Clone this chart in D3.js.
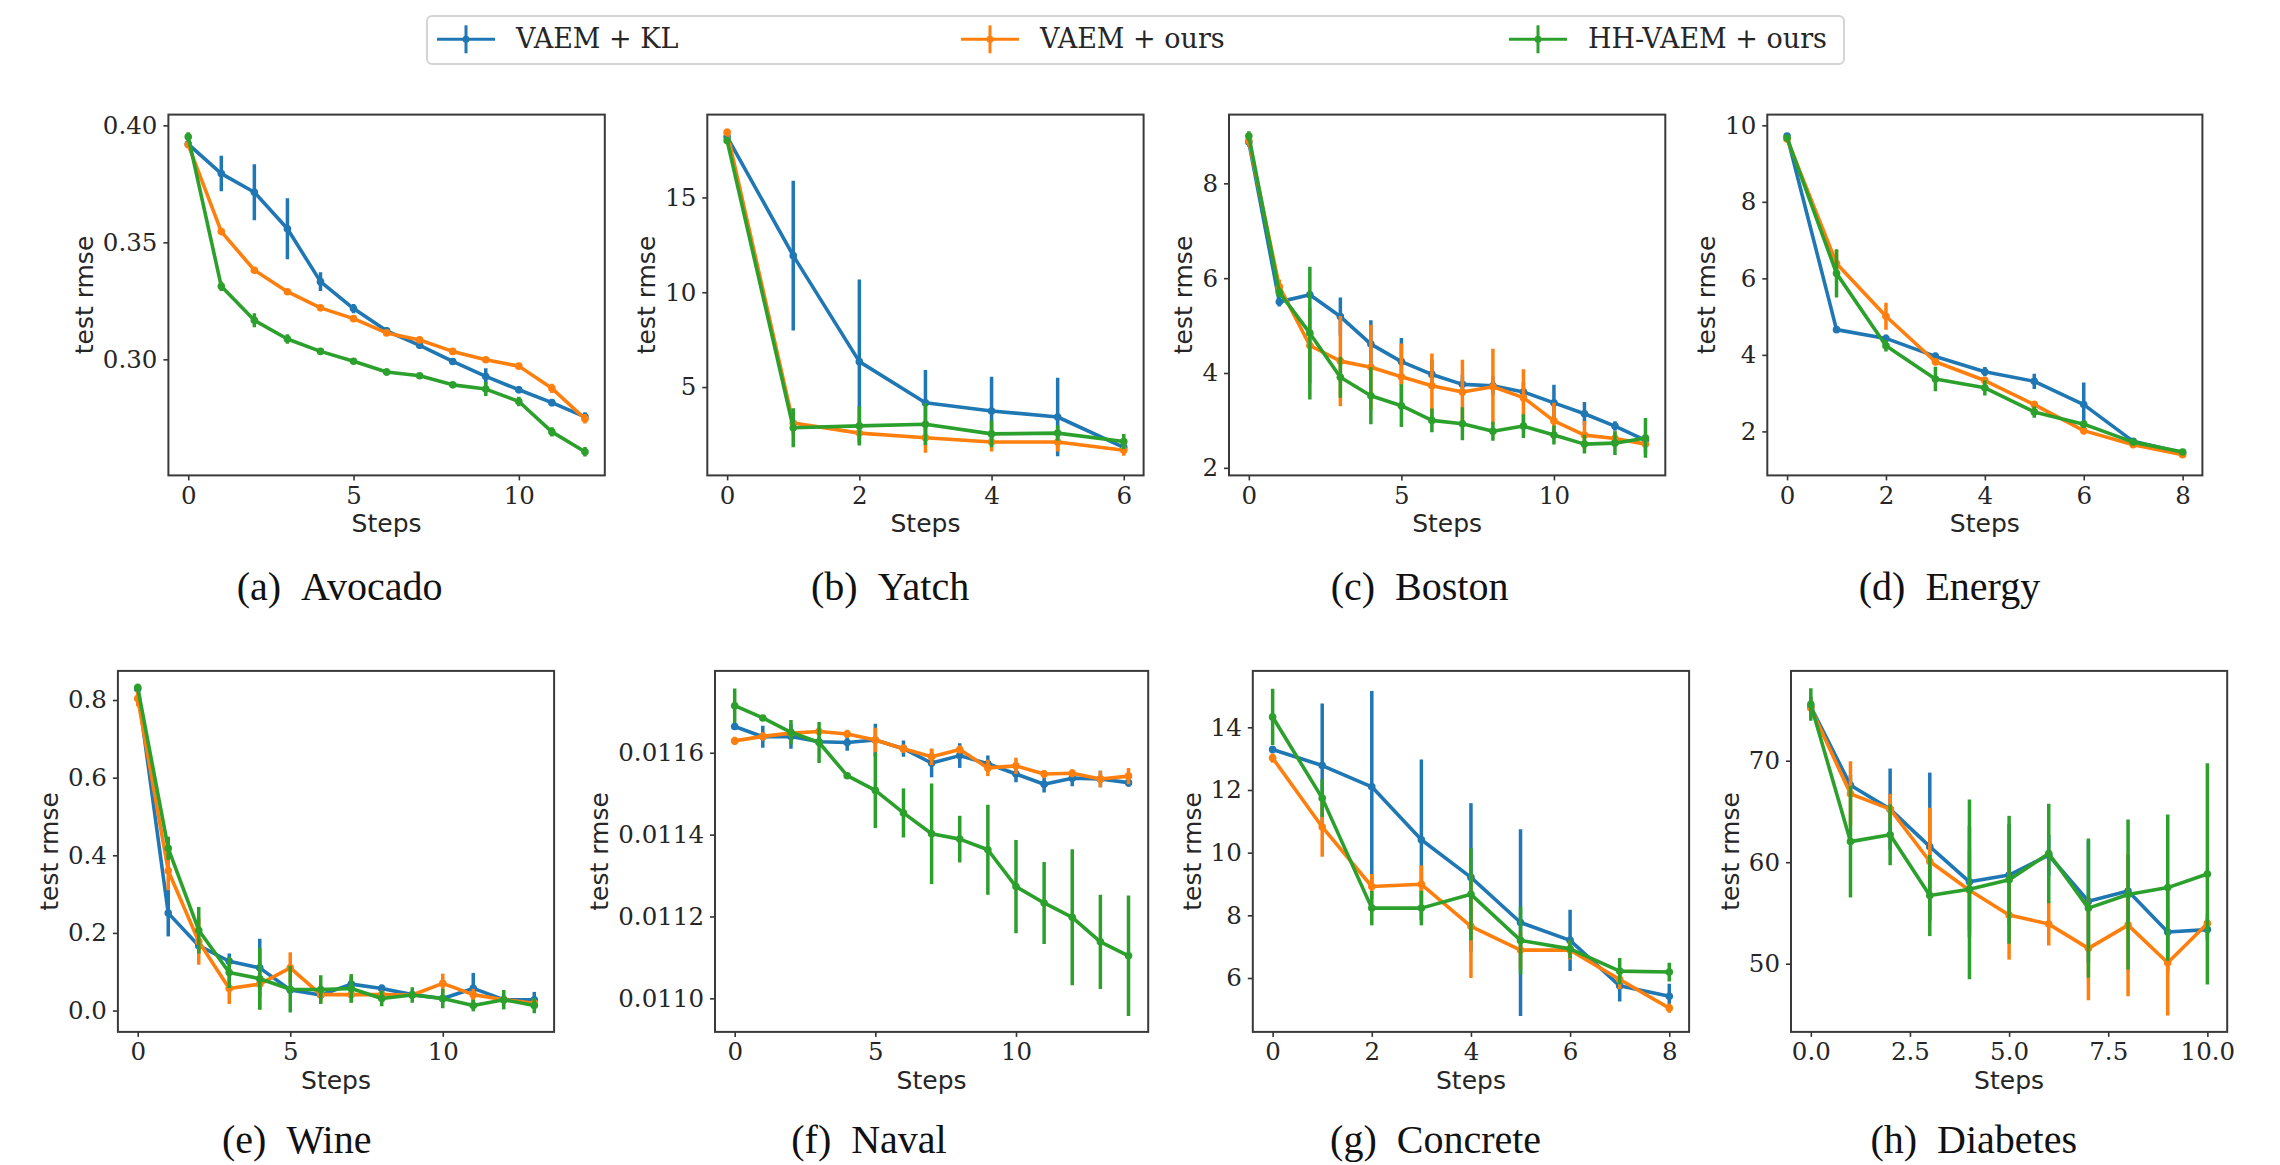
<!DOCTYPE html>
<html><head><meta charset="utf-8">
<script src="https://cdn.jsdelivr.net/npm/d3@7"></script>
<style>body{margin:0;background:#fff} svg{display:block}</style>
</head><body>
<svg id="chart" width="2280" height="1165" xmlns="http://www.w3.org/2000/svg"></svg>
<script>
// ---------------- DATA ----------------
const seriesNames = ["VAEM + KL", "VAEM + ours", "HH-VAEM + ours"];
const datasetNames = ["Avocado", "Yatch", "Boston", "Energy", "Wine", "Naval", "Concrete", "Diabetes"];
const panelLetters = ["a", "b", "c", "d", "e", "f", "g", "h"];

const avocadoKL      = [0.392,0.3794,0.3714,0.3558,0.3332,0.3217,0.3122,0.306,0.2991,0.2927,0.287,0.2815,0.2754];
const avocadoKLErr   = [0.001,0.0076,0.012,0.013,0.004,0.002,0.0015,0.0015,0.0015,0.0035,0.0015,0.0015,0.002];
const avocadoOurs    = [0.3917,0.3546,0.3381,0.3289,0.322,0.3174,0.3113,0.3083,0.3034,0.2998,0.2971,0.2876,0.2746];
const avocadoOursErr = [0.001,0.001,0.001,0.001,0.0012,0.0012,0.0012,0.001,0.001,0.001,0.0012,0.002,0.002];
const avocadoHH      = [0.3951,0.3312,0.3167,0.3087,0.3034,0.2992,0.2946,0.293,0.2891,0.2873,0.282,0.269,0.2605];
const avocadoHHErr   = [0.002,0.002,0.003,0.002,0.001,0.001,0.0015,0.001,0.001,0.003,0.002,0.002,0.002];

const yatchKL      = [18.2,11.93,6.34,4.17,3.74,3.42,1.82];
const yatchKLErr   = [0.2,3.95,4.33,1.73,1.8,2.07,0.3];
const yatchOurs    = [18.43,3.1,2.57,2.33,2.1,2.1,1.67];
const yatchOursErr = [0.2,0.6,0.5,0.8,0.5,0.5,0.3];
const yatchHH      = [18.0,2.85,2.95,3.04,2.53,2.57,2.13];
const yatchHHErr   = [0.2,1.03,1.03,1.1,0.7,0.4,0.4];

const bostonKL      = [8.87,5.5,5.65,5.19,4.61,4.24,3.97,3.76,3.73,3.6,3.37,3.14,2.88,2.58];
const bostonKLErr   = [0.1,0.1,0.08,0.4,0.5,0.5,0.3,0.2,0.2,0.2,0.38,0.25,0.1,0.1];
const bostonOurs    = [8.9,5.82,4.58,4.25,4.12,3.92,3.73,3.6,3.71,3.48,2.99,2.69,2.62,2.5];
const bostonOursErr = [0.1,0.15,0.8,0.95,0.9,0.7,0.68,0.68,0.8,0.6,0.38,0.3,0.15,0.2];
const bostonHH      = [9.0,5.7,4.84,3.91,3.52,3.31,3.0,2.93,2.77,2.88,2.69,2.5,2.52,2.63];
const bostonHHErr   = [0.1,0.1,1.4,0.43,0.6,0.45,0.25,0.35,0.2,0.25,0.2,0.2,0.25,0.42];

const energyKL      = [9.72,4.66,4.43,3.96,3.56,3.31,2.7,1.74,1.44];
const energyKLErr   = [0.05,0.05,0.1,0.1,0.12,0.2,0.58,0.05,0.05];
const energyOurs    = [9.64,6.39,5.01,3.82,3.33,2.7,2.02,1.65,1.39];
const energyOursErr = [0.05,0.35,0.35,0.1,0.1,0.1,0.1,0.05,0.05];
const energyHH      = [9.67,6.13,4.24,3.37,3.14,2.51,2.19,1.72,1.46];
const energyHHErr   = [0.05,0.63,0.15,0.32,0.2,0.15,0.1,0.05,0.05];

const wineKL      = [0.829,0.251,0.167,0.127,0.11,0.053,0.04,0.068,0.057,0.041,0.031,0.057,0.028,0.028];
const wineKLErr   = [0.01,0.06,0.02,0.02,0.075,0.01,0.01,0.02,0.01,0.01,0.01,0.04,0.01,0.02];
const wineOurs    = [0.804,0.36,0.178,0.057,0.068,0.11,0.041,0.041,0.041,0.04,0.07,0.041,0.028,0.019];
const wineOursErr = [0.02,0.05,0.06,0.04,0.065,0.04,0.02,0.02,0.01,0.01,0.025,0.015,0.01,0.01];
const wineHH      = [0.832,0.418,0.207,0.098,0.082,0.055,0.054,0.057,0.031,0.04,0.031,0.013,0.028,0.013];
const wineHHErr   = [0.01,0.03,0.06,0.04,0.08,0.06,0.037,0.037,0.02,0.02,0.025,0.015,0.025,0.02];

const navalKL      = [0.011664,0.011639,0.01164,0.011627,0.011625,0.011631,0.01161,0.011575,0.011593,0.011573,0.011548,0.011523,0.011538,0.011536,0.011527];
const navalKLErr   = [0.000008,0.000027,0.00003,0.00001,0.00002,0.00004,0.00002,0.000035,0.00003,0.00002,0.00002,0.00002,0.00002,0.00002,0.00001];
const navalOurs    = [0.011629,0.01164,0.011648,0.011652,0.011646,0.011631,0.01161,0.01159,0.011608,0.011563,0.011568,0.011548,0.01155,0.011536,0.011543];
const navalOursErr = [0.00001,0.00001,0.00001,0.00001,0.00001,0.00003,0.00001,0.00002,0.00001,0.00002,0.00002,0.00001,0.00001,0.00002,0.00002];
const navalHH      = [0.011715,0.011685,0.01165,0.011625,0.011544,0.011508,0.011453,0.011402,0.011389,0.011363,0.011273,0.011233,0.011198,0.011138,0.011104];
const navalHHErr   = [0.000042,0.000005,0.00003,0.00005,0.000005,0.000092,0.00006,0.000123,0.000057,0.00011,0.000114,0.0001,0.000166,0.000115,0.000147];

const concreteKL      = [13.29,12.78,12.1,10.41,9.21,7.77,7.2,5.75,5.42];
const concreteKLErr   = [0.1,1.98,3.06,2.56,2.37,2.98,0.98,0.5,0.4];
const concreteOurs    = [13.02,10.82,8.92,8.99,7.65,6.89,6.89,5.95,5.04];
const concreteOursErr = [0.15,0.95,0.4,0.6,1.65,0.6,0.3,0.3,0.15];
const concreteHH      = [14.33,11.74,8.23,8.23,8.67,7.2,6.93,6.22,6.19];
const concreteHHErr   = [0.9,0.6,0.55,0.55,1.47,1.08,0.3,0.42,0.3];

const diabetesKL      = [75.3,67.58,65.23,61.53,58.07,58.74,60.69,56.15,57.16,53.13,53.36];
const diabetesKLErr   = [1,1,4,7.3,5.5,5,2,6,3.5,4,1];
const diabetesOurs    = [75.2,66.74,65.23,60.07,57.23,54.8,53.9,51.51,53.8,50.1,53.97];
const diabetesOursErr = [1,3.2,1.5,5.3,4,4.4,2.1,5.1,7,5.2,1];
const diabetesHH      = [75.55,62.03,62.7,56.72,57.33,58.27,60.86,55.48,56.82,57.5,58.84];
const diabetesHHErr   = [1.6,5.5,3,4,8.86,6.3,4.9,6.86,7.4,7.2,10.9];

// axis limits and ticks
const yDomains = [[0.2504,0.4046],[0.34,19.37],[1.84,9.45],[0.85,10.28],[-0.055,0.875],[0.010918,0.0118],[4.28,15.8],[43.28,78.85]];
const yTickValues = [[0.30,0.35,0.40],[5,10,15],[2,4,6,8],[2,4,6,8,10],[0.0,0.2,0.4,0.6,0.8],[0.0110,0.0112,0.0114,0.0116],[6,8,10,12,14],[50,60,70]];
const yTickFormats = [".2f","d","d","d",".1f",".4f","d","d"];
const xTickValues = [[0,5,10],[0,2,4,6],[0,5,10],[0,2,4,6,8],[0,5,10],[0,5,10],[0,2,4,6,8],[0,2.5,5,7.5,10]];
const xTickFormats = ["d","d","d","d","d","d","d",".1f"];

const panelSeries = [
  [[avocadoKL,avocadoKLErr],[avocadoOurs,avocadoOursErr],[avocadoHH,avocadoHHErr]],
  [[yatchKL,yatchKLErr],[yatchOurs,yatchOursErr],[yatchHH,yatchHHErr]],
  [[bostonKL,bostonKLErr],[bostonOurs,bostonOursErr],[bostonHH,bostonHHErr]],
  [[energyKL,energyKLErr],[energyOurs,energyOursErr],[energyHH,energyHHErr]],
  [[wineKL,wineKLErr],[wineOurs,wineOursErr],[wineHH,wineHHErr]],
  [[navalKL,navalKLErr],[navalOurs,navalOursErr],[navalHH,navalHHErr]],
  [[concreteKL,concreteKLErr],[concreteOurs,concreteOursErr],[concreteHH,concreteHHErr]],
  [[diabetesKL,diabetesKLErr],[diabetesOurs,diabetesOursErr],[diabetesHH,diabetesHHErr]]
];

// ---------------- LAYOUT / STYLE ----------------
const colors = ["#1f77b4", "#ff7f0e", "#2ca02c"];
const frames = [
  {x0:168.4,x1:604.8,y0:114.6,y1:475.4},
  {x0:707.3,x1:1143.6,y0:114.6,y1:475.4},
  {x0:1229,x1:1665.3,y0:114.6,y1:475.4},
  {x0:1767.3,x1:2202.4,y0:114.6,y1:475.4},
  {x0:117.9,x1:554.1,y0:670.9,y1:1031.9},
  {x0:715,x1:1148.2,y0:670.9,y1:1031.9},
  {x0:1252.8,x1:1689.1,y0:670.9,y1:1031.9},
  {x0:1791,x1:2227.2,y0:670.9,y1:1031.9}
];
const captionBaselines = [600,600,600,600,1153,1153,1153,1153];
const tickFont = "'DejaVu Serif', serif";
const labelFont = "'DejaVu Sans', sans-serif";
const captionFont = "'Liberation Serif', 'Times New Roman', serif";

const svg = d3.select("#chart");
const defs = svg.append("defs");

frames.forEach((f, i) => {
  const n = panelSeries[i][0][0].length - 1;
  const xs = d3.scaleLinear().domain([-0.05 * n, 1.05 * n]).range([f.x0, f.x1]);
  const ys = d3.scaleLinear().domain(yDomains[i]).range([f.y1, f.y0]);
  const g = svg.append("g").attr("class", "panel");

  defs.append("clipPath").attr("id", "clip" + i)
    .append("rect").attr("x", f.x0).attr("y", f.y0).attr("width", f.x1 - f.x0).attr("height", f.y1 - f.y0);

  const plot = g.append("g").attr("clip-path", `url(#clip${i})`);
  panelSeries[i].forEach(([means, errs], s) => {
    const sg = plot.append("g");
    sg.selectAll("line.err").data(means).join("line").attr("class", "err")
      .attr("x1", (d, j) => xs(j)).attr("x2", (d, j) => xs(j))
      .attr("y1", (d, j) => ys(d - errs[j])).attr("y2", (d, j) => ys(d + errs[j]))
      .attr("stroke", colors[s]).attr("stroke-width", 3.5);
    sg.append("path").datum(means)
      .attr("d", d3.line().x((d, j) => xs(j)).y(d => ys(d)))
      .attr("fill", "none").attr("stroke", colors[s]).attr("stroke-width", 3.6)
      .attr("stroke-linejoin", "round");
    sg.selectAll("circle").data(means).join("circle")
      .attr("cx", (d, j) => xs(j)).attr("cy", d => ys(d)).attr("r", 3.8)
      .attr("fill", colors[s]);
  });

  // axes
  const yAx = g.append("g").attr("transform", `translate(${f.x0},0)`)
    .call(d3.axisLeft(ys).tickValues(yTickValues[i]).tickFormat(d3.format(yTickFormats[i])).tickSize(5).tickPadding(6));
  const xAx = g.append("g").attr("transform", `translate(0,${f.y1})`)
    .call(d3.axisBottom(xs).tickValues(xTickValues[i]).tickFormat(d3.format(xTickFormats[i])).tickSize(5).tickPadding(6));
  [yAx, xAx].forEach(a => {
    a.select(".domain").remove();
    a.selectAll("line").attr("stroke", "#333").attr("stroke-width", 1.6);
    a.selectAll("text").attr("font-family", tickFont).attr("font-size", 24.5).attr("fill", "#262626");
  });

  // frame
  g.append("rect").attr("x", f.x0).attr("y", f.y0).attr("width", f.x1 - f.x0).attr("height", f.y1 - f.y0)
    .attr("fill", "none").attr("stroke", "#3a3a3a").attr("stroke-width", 2);

  // y label positioned left of the tick labels
  let minLeft = f.x0;
  yAx.selectAll("text").each(function () { const b = this.getBBox(); const m = this.getCTM(); minLeft = Math.min(minLeft, b.x + m.e); });
  const yLabX = minLeft - 10;
  const yMid = (f.y0 + f.y1) / 2;
  g.append("text").attr("transform", `translate(${yLabX},${yMid}) rotate(-90)`)
    .attr("text-anchor", "middle").attr("font-family", labelFont).attr("font-size", 25)
    .attr("fill", "#262626").text("test rmse");

  // x label
  g.append("text").attr("x", (f.x0 + f.x1) / 2).attr("y", f.y1 + 57)
    .attr("text-anchor", "middle").attr("font-family", labelFont).attr("font-size", 25)
    .attr("fill", "#262626").text("Steps");

  // caption
  const capCenter = (yLabX - 0.74 * 25 + f.x1) / 2;
  g.append("text").attr("x", capCenter).attr("y", captionBaselines[i])
    .attr("text-anchor", "middle").attr("font-family", captionFont).attr("font-size", 40)
    .attr("fill", "#111").style("white-space", "pre")
    .text(`(${panelLetters[i]})\u00a0\u00a0${datasetNames[i]}`);
});

// ---------------- LEGEND ----------------
const legendBox = {x: 427, y: 16, w: 1417, h: 48};
const legendCenters = [466, 990, 1538];
const lg = svg.append("g");
lg.append("rect").attr("x", legendBox.x).attr("y", legendBox.y).attr("width", legendBox.w).attr("height", legendBox.h)
  .attr("rx", 5).attr("fill", "#fff").attr("stroke", "#d4d4d4").attr("stroke-width", 2);
seriesNames.forEach((name, s) => {
  const cx = legendCenters[s], cy = 39.3;
  lg.append("line").attr("x1", cx - 29).attr("x2", cx + 29).attr("y1", cy).attr("y2", cy)
    .attr("stroke", colors[s]).attr("stroke-width", 3);
  lg.append("line").attr("x1", cx).attr("x2", cx).attr("y1", cy - 14).attr("y2", cy + 14)
    .attr("stroke", colors[s]).attr("stroke-width", 3);
  lg.append("circle").attr("cx", cx).attr("cy", cy).attr("r", 3.5).attr("fill", colors[s]);
  lg.append("text").attr("x", cx + 50).attr("y", 48.3).attr("font-family", tickFont).attr("font-size", 27)
    .attr("fill", "#262626").text(name);
});
</script>
</body></html>
